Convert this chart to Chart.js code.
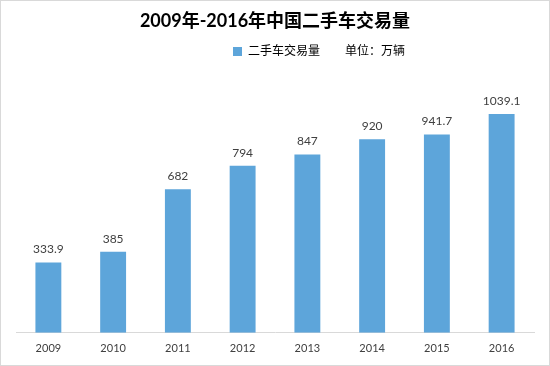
<!DOCTYPE html>
<html><head><meta charset="utf-8">
<script src="https://cdn.jsdelivr.net/npm/chart.js@4/dist/chart.umd.min.js"></script>
<style>html,body{margin:0;padding:0;background:#fff}#wrap{width:550px;height:366px}</style>
</head><body><div id="wrap"><canvas id="c" width="550" height="366"></canvas></div>
<script>
const categories = ['2009','2010','2011','2012','2013','2014','2015','2016'];
const volumes = [333.9, 385, 682, 794, 847, 920, 941.7, 1039.1];
const valueLabels = ['333.9','385','682','794','847','920','941.7','1039.1'];
const seriesName = '二手车交易量';
const unitText = '单位：万辆';
const titleText = '2009年-2016年中国二手车交易量';

const FONT = "Lato, 'Noto Sans CJK SC', sans-serif";

const valueLabelPlugin = {
  id: 'valueLabels',
  afterDatasetsDraw(chart) {
    const ctx = chart.ctx;
    const meta = chart.getDatasetMeta(0);
    ctx.save();
    ctx.font = "12px " + FONT;
    ctx.fillStyle = '#404040';
    ctx.textAlign = 'center';
    ctx.textBaseline = 'bottom';
    meta.data.forEach((bar, i) => {
      ctx.fillText(valueLabels[i], bar.x, bar.y - 7);
    });
    ctx.restore();
  }
};
const frameAndLegendShift = {
  id: 'frame',
  afterLayout(chart) {
    const lg = chart.legend;
    if (lg) { lg.left += 44; lg.right += 44; }
  },
  afterDraw(chart) {
    const ctx = chart.ctx;
    ctx.save();
    ctx.strokeStyle = '#d9d9d9';
    ctx.lineWidth = 1;
    ctx.strokeRect(0.5, 0.5, chart.width - 1, chart.height - 1);
    ctx.restore();
  }
};

new Chart(document.getElementById('c'), {
  type: 'bar',
  data: {
    labels: categories,
    datasets: [
      { label: seriesName, data: volumes, backgroundColor: '#5da5da', borderWidth: 0,
        barPercentage: 0.8, categoryPercentage: 0.5 }
    ]
  },
  options: {
    responsive: false,
    animation: false,
    layout: { padding: { left: 16, right: 16, top: 0, bottom: 10 } },
    plugins: {
      title: { display: true, text: titleText, color: '#000',
        font: { family: FONT, size: 18, weight: 'bold' }, padding: { top: 10, bottom: 4 } },
      legend: {
        display: true,
        labels: {
          color: '#404040', font: { family: FONT, size: 12 }, boxWidth: 9, boxHeight: 9, padding: 10,
          generateLabels(chart) {
            return [
              { text: seriesName, fillStyle: '#5da5da', strokeStyle: '#5da5da', lineWidth: 0, hidden: false, datasetIndex: 0 },
              { text: unitText, fillStyle: 'rgba(0,0,0,0)', strokeStyle: 'rgba(0,0,0,0)', lineWidth: 0, hidden: false }
            ];
          }
        }
      },
      tooltip: { enabled: false }
    },
    scales: {
      x: {
        grid: { display: false },
        border: { display: true, color: '#d9d9d9', width: 1 },
        ticks: { color: '#404040', font: { family: FONT, size: 11 }, padding: 1 }
      },
      y: { display: false, min: 0, max: 1260 }
    }
  },
  plugins: [valueLabelPlugin, frameAndLegendShift]
});
</script>
</body></html>
